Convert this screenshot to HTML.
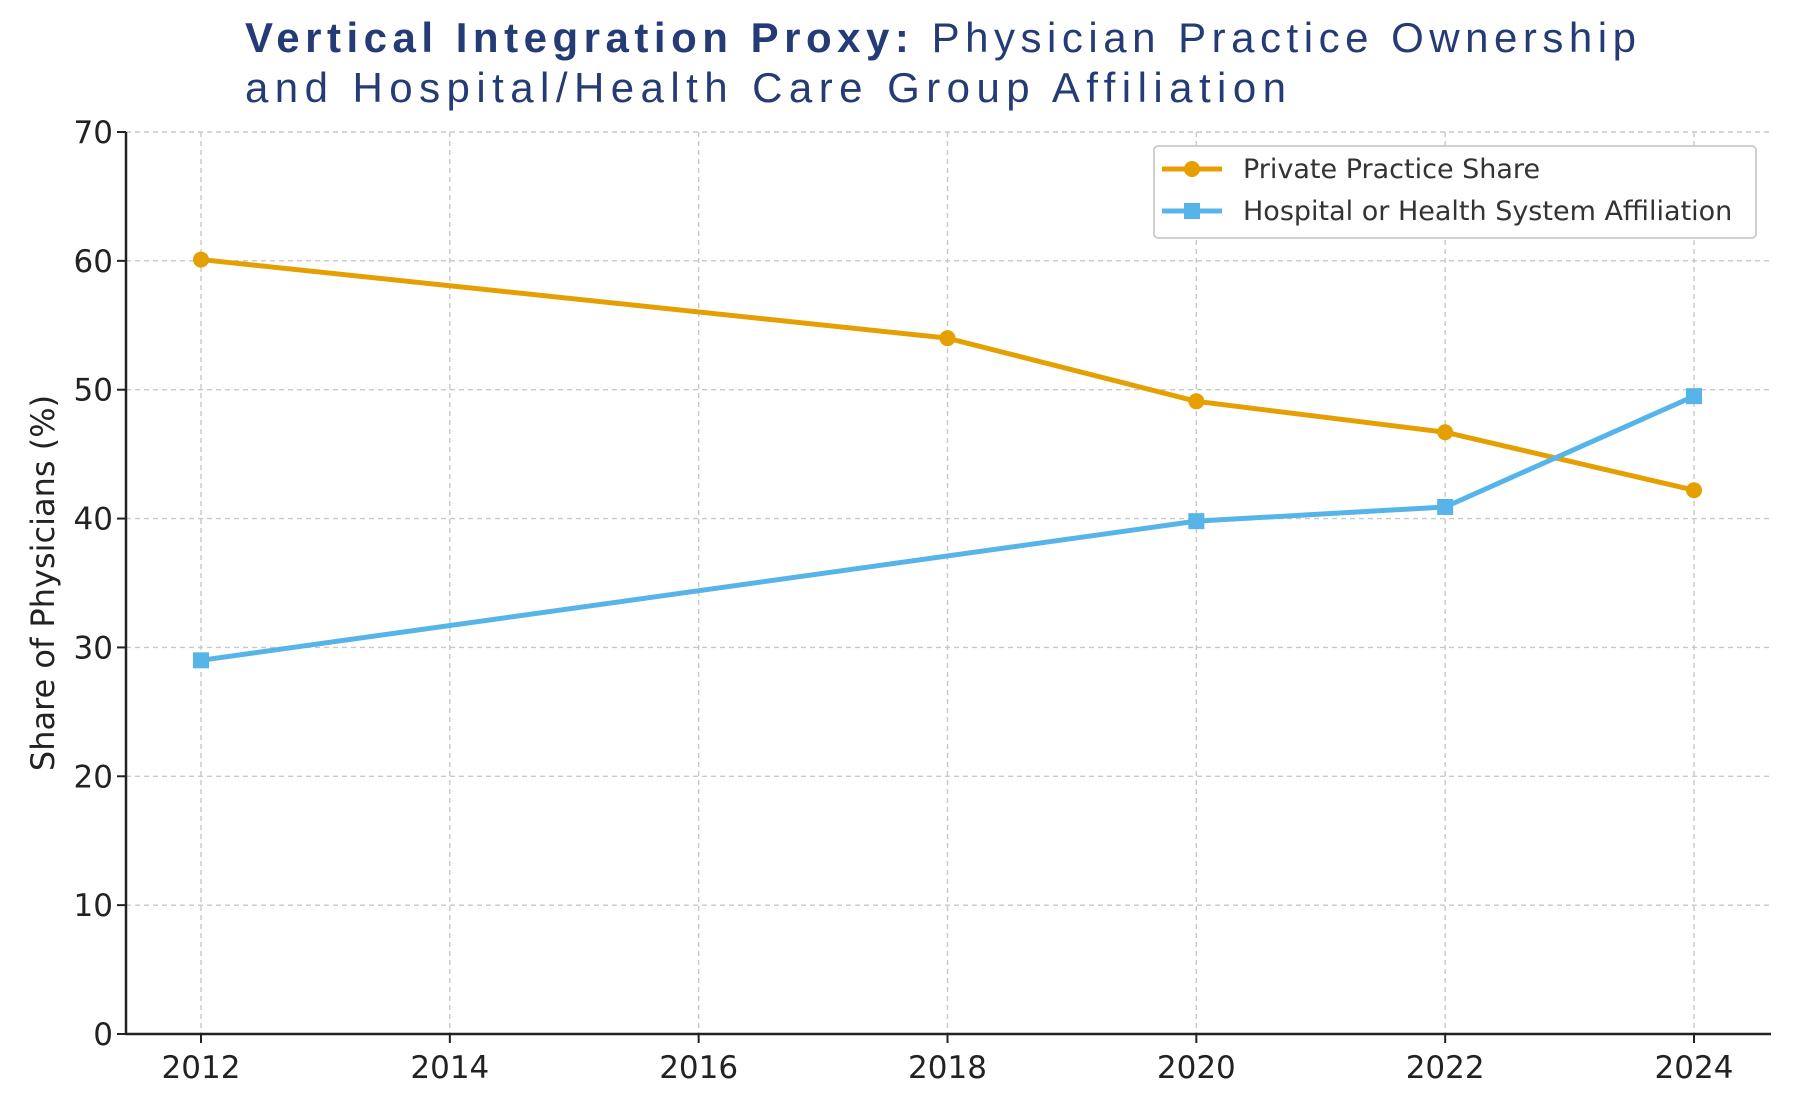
<!DOCTYPE html>
<html><head><meta charset="utf-8"><style>
body{margin:0;background:#fff;}
svg text{font-family:"DejaVu Sans","Liberation Sans",sans-serif;}
</style></head><body>
<svg id="chart" width="1800" height="1100" viewBox="0 0 1800 1100" xmlns="http://www.w3.org/2000/svg">
<g fill="#253b75" font-size="42">
<text x="245" y="52" textLength="1391" lengthAdjust="spacing" style="font-family:'Liberation Sans',sans-serif"><tspan font-weight="bold">Vertical Integration Proxy:</tspan> Physician Practice Ownership</text>
<text x="245" y="102" textLength="1041" lengthAdjust="spacing" style="font-family:'Liberation Sans',sans-serif">and Hospital/Health Care Group Affiliation</text>
</g>
<g id="grid"></g>
<g id="axes"></g>
<g id="series"></g>
<text transform="translate(54,583) rotate(-90)" text-anchor="middle" font-size="32" fill="#222">Share of Physicians (%)</text>
<g>
<rect x="1154" y="146" width="602" height="92" rx="4" fill="#fff" stroke="#d0d0d0" stroke-width="2"/>
<g>
<line x1="1162" y1="169" x2="1222" y2="169" stroke="#e69f00" stroke-width="5"/>
<circle cx="1192" cy="169" r="8" fill="#e69f00"/>
<text x="1243" y="178" font-size="27" fill="#333">Private Practice Share</text>
</g>
<g>
<line x1="1162" y1="211" x2="1222" y2="211" stroke="#56b4e9" stroke-width="5"/>
<rect x="1184" y="203" width="16" height="16" fill="#56b4e9"/>
<text x="1243" y="220" font-size="27" fill="#333">Hospital or Health System Affiliation</text>
</g>
</g>
</svg>
<script>
const yearsTicks = [2012, 2014, 2016, 2018, 2020, 2022, 2024];
const yTicks = [0, 10, 20, 30, 40, 50, 60, 70];
const privateYears = [2012, 2018, 2020, 2022, 2024];
const privateValues = [60.1, 54.0, 49.1, 46.7, 42.2];
const hospitalYears = [2012, 2020, 2022, 2024];
const hospitalValues = [29.0, 39.8, 40.9, 49.5];

const NS = "http://www.w3.org/2000/svg";
const L = 126, R = 1771, T = 132, B = 1034;
function xs(v){ return 201 + (v - 2012) * (1694 - 201) / 12; }
function ys(v){ return B - v * (B - T) / 70; }
function mk(tag, attrs, parent){ const e = document.createElementNS(NS, tag); for (const k in attrs) e.setAttribute(k, attrs[k]); parent.appendChild(e); return e; }
const grid = document.getElementById('grid'), axes = document.getElementById('axes'), series = document.getElementById('series');

yTicks.forEach(v => {
  const g = mk('line', {x1: L, x2: R, y1: ys(v), y2: ys(v), stroke: '#c8c8c8', 'stroke-width': 1.4, 'stroke-dasharray': '5,4'}, grid);
  
  
  mk('line', {x1: L - 9, x2: L, y1: ys(v), y2: ys(v), stroke: '#222', 'stroke-width': 2}, axes);
  const t = mk('text', {x: L - 13, y: ys(v) + 11, 'text-anchor': 'end', 'font-size': 31, fill: '#222'}, axes);
  t.textContent = v;
  
  
});
yearsTicks.forEach(v => {
  const g = mk('line', {x1: xs(v), x2: xs(v), y1: T, y2: B, stroke: '#c8c8c8', 'stroke-width': 1.4, 'stroke-dasharray': '5,4'}, grid);
  
  
  mk('line', {x1: xs(v), x2: xs(v), y1: B, y2: B + 9, stroke: '#222', 'stroke-width': 2}, axes);
  const t = mk('text', {x: xs(v), y: B + 44, 'text-anchor': 'middle', 'font-size': 31, fill: '#222'}, axes);
  t.textContent = v;
  
  
});
mk('line', {x1: L, x2: L, y1: T, y2: B + 1, stroke: '#222', 'stroke-width': 2.5}, axes);
mk('line', {x1: L - 1, x2: R, y1: B, y2: B, stroke: '#222', 'stroke-width': 2.5}, axes);

function drawSeries(xv, yv, color, marker, name){
  const pts = xv.map((x, i) => xs(x) + ',' + ys(yv[i])).join(' ');
  const pl = mk('polyline', {points: pts, fill: 'none', stroke: color, 'stroke-width': 5, 'stroke-linejoin': 'round'}, series);
  
  
  xv.forEach((x, i) => {
    let m;
    if (marker === 'circle') m = mk('circle', {cx: xs(x), cy: ys(yv[i]), r: 8, fill: color}, series);
    else m = mk('rect', {x: xs(x) - 8, y: ys(yv[i]) - 8, width: 16, height: 16, fill: color}, series);
    
    
  });
}
drawSeries(privateYears, privateValues, '#e69f00', 'circle', 'private-practice');
drawSeries(hospitalYears, hospitalValues, '#56b4e9', 'square', 'hospital-affiliation');
</script>
</body></html>
